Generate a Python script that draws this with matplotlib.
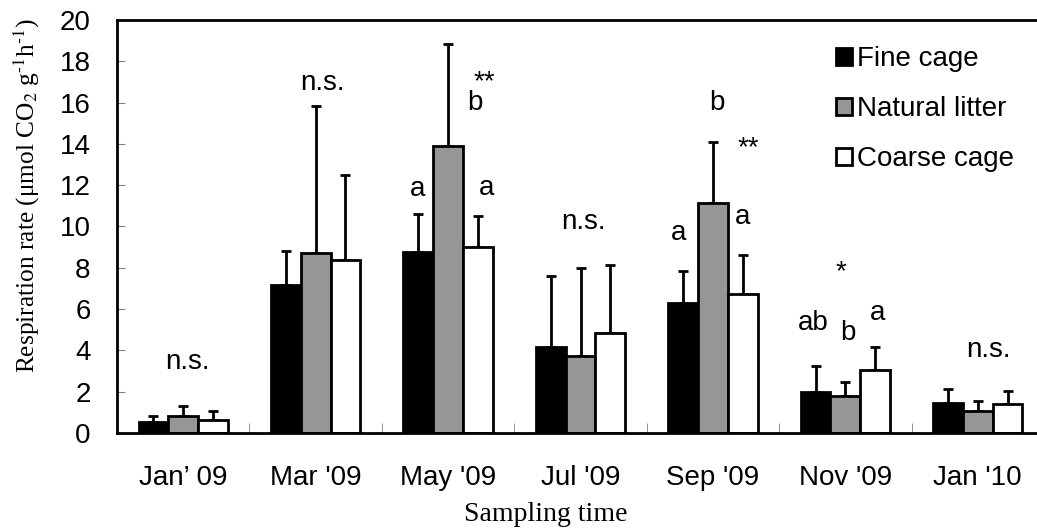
import numpy as np
import matplotlib
matplotlib.use("Agg")
import matplotlib.pyplot as plt

# ── Data ──────────────────────────────────────────────────────────────────────
months = ["Jan\u2019 09", "Mar '09", "May '09", "Jul '09", "Sep '09", "Nov '09", "Jan '10"]
series = ["Fine cage", "Natural litter", "Coarse cage"]

fine_mean    = [0.55, 7.17, 8.75, 4.15, 6.31, 2.00, 1.46]
fine_err     = [0.29, 1.66, 1.85, 3.47, 1.55, 1.23, 0.66]
natural_mean = [0.82, 8.70, 13.90, 3.73, 11.12, 1.79, 1.08]
natural_err  = [0.50, 7.15, 4.92, 4.24, 2.99, 0.70, 0.45]
coarse_mean  = [0.63, 8.36, 9.02, 4.83, 6.73, 3.07, 1.41]
coarse_err   = [0.44, 4.15, 1.49, 3.31, 1.90, 1.09, 0.61]

# significance letters (x in group units, y in data units)
sig_text = ["n.s.", "n.s.", "a", "b", "**", "a", "n.s.", "a", "b", "**", "a",
            "ab", "b", "a", "*", "n.s."]
sig_x = [0.03, 1.05, 1.77, 2.20, 2.27, 2.29, 3.02, 3.74, 4.03, 4.27, 4.22,
         4.76, 5.02, 5.24, 4.97, 6.08]
sig_y = [3.45, 16.95, 11.8, 16.0, 17.0, 11.85, 10.2, 9.7, 16.0, 13.8, 10.45,
         5.35, 4.85, 5.8, 7.8, 4.0]

colors = ["black", "#969696", "white"]

plt.rcParams["font.family"] = ["Liberation Sans", "DejaVu Sans"]
plt.rcParams["mathtext.fontset"] = "stix"

fig = plt.figure(figsize=(10.37, 5.31), dpi=100)
ax = fig.add_axes([117 / 1037, 1 - 433 / 531, 927 / 1037, 413 / 531])

x = np.arange(len(months))
w = 0.225
means = [fine_mean, natural_mean, coarse_mean]
errs = [fine_err, natural_err, coarse_err]
for i, (m, e) in enumerate(zip(means, errs)):
    pos = x + (i - 1) * w
    ax.bar(pos, m, width=w, color=colors[i], edgecolor="black", linewidth=2,
           label=series[i], zorder=2)
    ax.errorbar(pos, m, yerr=[np.zeros(len(e)), e], fmt="none", ecolor="black",
                elinewidth=2, capsize=3.5, capthick=2, zorder=1)

for txt, xs, ys in zip(sig_text, sig_x, sig_y):
    ax.text(xs, ys, txt, ha="center", va="center", fontsize=20)

ax.set_xlim(-0.5, len(months) - 0.5)
ax.set_ylim(0, 20)
ax.set_yticks(np.arange(0, 21, 2))
ax.tick_params(axis="y", direction="in", length=6, color="#808080",
               labelsize=20, pad=19)
ax.set_xticks(x)
ax.set_xticklabels(months, fontsize=20)
ax.tick_params(axis="x", length=0, pad=23)
# group separators
ax.set_xticks(np.arange(0.5, len(months) - 0.5, 1), minor=True)
ax.tick_params(axis="x", which="minor", direction="in", length=7, color="#808080")

for s in ax.spines.values():
    s.set_linewidth(2)
    s.set_color("black")

ax.set_ylabel("Respiration rate (\u03bcmol CO$_2$ g$^{\\text{-1}}$h$^{\\text{-1}}$)",
              family="Liberation Serif", fontsize=18.3)
ax.yaxis.set_label_coords(-0.081, 0.574)
ax.set_xlabel("Sampling time", family="Liberation Serif", fontsize=20)
ax.xaxis.set_label_coords(0.462, -0.167)

leg = ax.legend(loc="upper left", bbox_to_anchor=(0.776, 0.937), frameon=False,
                fontsize=20, handlelength=0.55, handleheight=0.55,
                handletextpad=0.2, labelspacing=0.87, borderpad=0,
                borderaxespad=0)

fig.savefig("out.png", dpi=100)
